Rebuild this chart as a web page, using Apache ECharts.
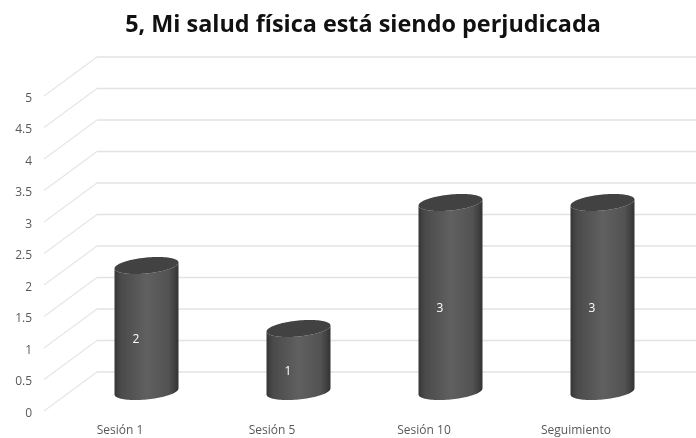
<!DOCTYPE html>
<html>
<head>
<meta charset="utf-8">
<style>
  html, body { margin: 0; padding: 0; background: #fff; }
  #main { width: 696px; height: 438px; }
</style>
<script src="https://cdn.jsdelivr.net/npm/echarts@6/dist/echarts.min.js"></script>
</head>
<body>
<div id="main"></div>
<script>
const categories = ["Sesión 1", "Sesión 5", "Sesión 10", "Seguimiento"];
const values = [2, 1, 3, 3];
const yTicks = [0, 0.5, 1, 1.5, 2, 2.5, 3, 3.5, 4, 4.5, 5];

var myChart = echarts.init(document.getElementById("main"));

// fake 3D: how far the back wall sits from the front plane, in pixels
const depthX = 53;
const depthY = -39;
const barRadius = 32;
const capHeight = 8;
const capSkew = 3;
const labelFont = "Open Sans";

// one outline point of the tilted ellipse used for the cylinder ends
function ellipsePoint(cx, cy, t) {
  return [
    cx + barRadius * Math.cos(t),
    cy - capSkew * Math.cos(t) + capHeight * Math.sin(t),
  ];
}

function renderGridLine(params, api) {
  const area = params.coordSys;
  const y = api.coord([0, api.value(1)])[1];
  const backY = y + depthY;
  return {
    type: "group",
    children: [
      {
        type: "line",
        shape: { x1: area.x, y1: y, x2: area.x + depthX, y2: backY },
        style: { stroke: "#e6e6e6", lineWidth: 1.2 },
        silent: true,
      },
      {
        type: "line",
        shape: { x1: area.x + depthX, y1: backY, x2: area.x + depthX + area.width, y2: backY },
        style: { stroke: "#e3e3e3", lineWidth: 1.5 },
        silent: true,
      },
    ],
  };
}

function renderBar(params, api) {
  const top = api.coord([api.value(0), api.value(1)]);
  const base = api.coord([api.value(0), 0]);
  const cx = top[0] + depthX / 2;
  const topY = top[1] + depthY / 2;
  const baseY = base[1] + depthY / 2;
  const steps = 48;

  const body = [];
  for (let i = 0; i <= steps; ++i) {
    body.push(ellipsePoint(cx, baseY, (Math.PI * i) / steps));
  }
  for (let i = steps; i >= 0; --i) {
    body.push(ellipsePoint(cx, topY, (Math.PI * i) / steps));
  }
  const cap = [];
  for (let i = 0; i < steps * 2; ++i) {
    cap.push(ellipsePoint(cx, topY, (Math.PI * i) / steps));
  }

  return {
    type: "group",
    children: [
      {
        type: "polygon",
        shape: { points: body },
        style: {
          fill: new echarts.graphic.LinearGradient(0, 0, 1, 0, [
            { offset: 0, color: "#363636" },
            { offset: 0.1, color: "#4a4a4a" },
            { offset: 0.5, color: "#606060" },
            { offset: 0.85, color: "#525252" },
            { offset: 1, color: "#333333" },
          ]),
        },
      },
      {
        type: "polygon",
        shape: { points: cap },
        style: { fill: "#424242" },
      },
      {
        type: "text",
        style: {
          text: String(api.value(1)),
          x: top[0] + 16,
          y: (top[1] + base[1]) / 2 - 8,
          fill: "#ffffff",
          font: "12px '" + labelFont + "'",
          align: "center",
          verticalAlign: "middle",
        },
      },
    ],
  };
}

var option = {
  animation: false,
  title: {
    text: "5, Mi salud física está siendo perjudicada",
    left: 358,
    top: 9,
    textAlign: "center",
    textStyle: {
      fontFamily: labelFont,
      fontSize: 23.4,
      fontWeight: "bold",
      color: "#111111",
    },
  },
  grid: { left: 44, right: 44, top: 96, bottom: 27 },
  xAxis: {
    type: "category",
    data: categories,
    axisLine: { show: false },
    axisTick: { show: false },
    axisLabel: {
      color: "#595959",
      fontFamily: labelFont,
      fontSize: 12,
      margin: 14,
    },
  },
  yAxis: {
    type: "value",
    min: 0,
    max: 5,
    interval: 0.5,
    axisLine: { show: false },
    axisTick: { show: false },
    splitLine: { show: false },
    axisLabel: {
      margin: 12,
      // Open Sans sits high in its box, nudge the tick labels down to the line ends
      formatter: "{v|{value}}",
      rich: {
        v: {
          color: "#595959",
          fontFamily: labelFont,
          fontSize: 12,
          padding: [5, 0, 0, 0],
        },
      },
    },
  },
  series: [
    {
      type: "custom",
      name: "grid",
      z: 1,
      clip: false,
      silent: true,
      renderItem: renderGridLine,
      data: yTicks.map((v) => [0, v]),
    },
    {
      type: "custom",
      name: "values",
      z: 2,
      clip: false,
      renderItem: renderBar,
      data: values.map((v, i) => [i, v]),
    },
  ],
};

option && myChart.setOption(option);
</script>
</body>
</html>
